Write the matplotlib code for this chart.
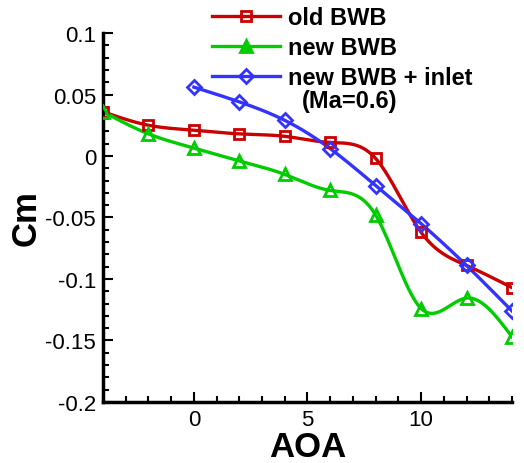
import numpy as np
import matplotlib
matplotlib.use('Agg')
import matplotlib.pyplot as plt
from matplotlib.ticker import MultipleLocator

plt.rcParams['font.family'] = ['Liberation Sans', 'DejaVu Sans']

# data
aoa = [-4, -2, 0, 2, 4, 6, 8, 10, 12, 14]
cm_old = [0.036, 0.025, 0.021, 0.018, 0.016, 0.011, -0.002, -0.062, -0.089, -0.107]
cm_new = [0.036, 0.018, 0.0065, -0.004, -0.015, -0.028, -0.048, -0.124, -0.1155, -0.147]
aoa_inlet = [0, 2, 4, 6, 8, 10, 12, 14]
cm_inlet = [0.056, 0.044, 0.029, 0.006, -0.024, -0.055, -0.089, -0.126]


def spline(x, y, n=300):
    # natural cubic spline, just for drawing the smooth curve
    x = np.asarray(x, float)
    y = np.asarray(y, float)
    k = len(x)
    h = np.diff(x)
    A = np.zeros((k, k))
    b = np.zeros(k)
    A[0, 0] = A[-1, -1] = 1
    for i in range(1, k - 1):
        A[i, i - 1] = h[i - 1]
        A[i, i] = 2 * (h[i - 1] + h[i])
        A[i, i + 1] = h[i]
        b[i] = 6 * ((y[i + 1] - y[i]) / h[i] - (y[i] - y[i - 1]) / h[i - 1])
    M = np.linalg.solve(A, b)
    xs = np.linspace(x[0], x[-1], n)
    j = np.clip(np.searchsorted(x, xs) - 1, 0, k - 2)
    t1 = x[j + 1] - xs
    t2 = xs - x[j]
    hj = h[j]
    ys = (M[j] * t1**3 + M[j + 1] * t2**3) / (6 * hj) \
        + (y[j] / hj - M[j] * hj / 6) * t1 + (y[j + 1] / hj - M[j + 1] * hj / 6) * t2
    return xs, ys


series = [
    (aoa, cm_old, '#cc0000', 's', 'old BWB', 7.5),
    (aoa, cm_new, '#00cc00', '^', 'new BWB', 9),
    (aoa_inlet, cm_inlet, '#3333ff', 'D', 'new BWB + inlet', 7),
]

fig = plt.figure(figsize=(5.24, 4.64), dpi=100)
ax = fig.add_axes([0.1966, 0.1315, 0.7804, 0.7952])

handles = []
for x, y, c, m, lab, ms in series:
    xs, ys = spline(x, y)
    ax.plot(xs, ys, color=c, lw=2.4, zorder=2)
    ax.plot(x, y, ls='none', marker=m, ms=ms, mfc='none', mec=c, mew=2, zorder=3)
    fc = c if m == '^' else 'none'
    h, = ax.plot([], [], color=c, lw=2.4, marker=m, ms=ms, mfc=fc, mec=c, mew=2)
    handles.append(h)

ax.set_xlim(-4, 14)
ax.set_ylim(-0.2, 0.1)
ax.xaxis.set_minor_locator(MultipleLocator(1))
ax.yaxis.set_minor_locator(MultipleLocator(0.01))
ax.set_yticks([-0.2, -0.15, -0.1, -0.05, 0, 0.05, 0.1])
ax.set_yticklabels(['-0.2', '-0.15', '-0.1', '-0.05', '0', '0.05', '0.1'])
ax.set_xticks([0, 5, 10])
ax.set_xticklabels(['0', '5', '10'])

ax.spines['top'].set_visible(False)
ax.spines['right'].set_visible(False)
for s in ['left', 'bottom']:
    ax.spines[s].set_linewidth(2.5)
ax.tick_params(which='both', direction='in', width=1.5, labelsize=16, pad=5)
ax.tick_params(which='major', length=7.5)
ax.tick_params(which='minor', length=4.5)

ax.set_xlabel('AOA', fontsize=25, fontweight='bold', labelpad=0)
ax.set_ylabel('Cm', fontsize=25, fontweight='bold', labelpad=2)

leg = fig.legend(handles, [s[4] for s in series], loc='upper left',
                 bbox_to_anchor=(0.395, 0.995), frameon=False,
                 prop={'size': 17, 'weight': 'bold'}, handlelength=2.9,
                 handletextpad=0.34, labelspacing=0.3, borderaxespad=0,
                 borderpad=0.2)
fig.text(0.577, 0.781, '(Ma=0.6)', fontsize=17, fontweight='bold', va='center')

fig.savefig('out.png', dpi=100)
